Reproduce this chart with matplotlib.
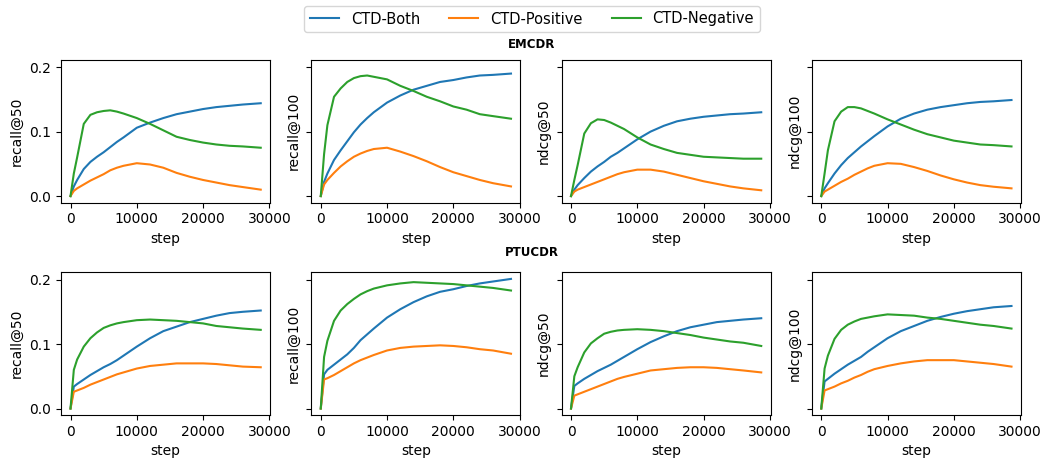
import matplotlib
matplotlib.use("Agg")
import matplotlib.pyplot as plt

steps = [0, 500, 1000, 2000, 3000, 4000, 5000, 6000, 7000, 8000,
         10000, 12000, 14000, 16000, 18000, 20000, 22000, 24000, 26000, 28700]

models = ["EMCDR", "PTUCDR"]
metrics = ["recall@50", "recall@100", "ndcg@50", "ndcg@100"]
variants = ["CTD-Both", "CTD-Positive", "CTD-Negative"]

# EMCDR
emcdr_recall50_both = [0, 0.015, 0.025, 0.042, 0.053, 0.061, 0.068, 0.076, 0.084, 0.091,
                       0.106, 0.114, 0.121, 0.127, 0.131, 0.135, 0.138, 0.140, 0.142, 0.144]
emcdr_recall50_pos = [0, 0.008, 0.012, 0.018, 0.024, 0.029, 0.034, 0.040, 0.044, 0.047,
                      0.051, 0.049, 0.044, 0.036, 0.030, 0.025, 0.021, 0.017, 0.014, 0.010]
emcdr_recall50_neg = [0, 0.035, 0.060, 0.112, 0.126, 0.130, 0.132, 0.133, 0.131, 0.128,
                      0.121, 0.112, 0.102, 0.092, 0.087, 0.083, 0.080, 0.078, 0.077, 0.075]

emcdr_recall100_both = [0, 0.022, 0.035, 0.056, 0.071, 0.085, 0.099, 0.111, 0.121, 0.130,
                        0.145, 0.156, 0.165, 0.171, 0.177, 0.180, 0.184, 0.187, 0.188, 0.190]
emcdr_recall100_pos = [0, 0.018, 0.025, 0.036, 0.046, 0.054, 0.061, 0.066, 0.070, 0.073,
                       0.075, 0.069, 0.062, 0.054, 0.045, 0.037, 0.031, 0.025, 0.020, 0.015]
emcdr_recall100_neg = [0, 0.065, 0.110, 0.154, 0.167, 0.177, 0.183, 0.186, 0.187, 0.185,
                       0.181, 0.171, 0.163, 0.154, 0.147, 0.139, 0.134, 0.127, 0.124, 0.120]

emcdr_ndcg50_both = [0, 0.010, 0.017, 0.028, 0.038, 0.046, 0.053, 0.061, 0.067, 0.074,
                     0.088, 0.100, 0.109, 0.116, 0.120, 0.123, 0.125, 0.127, 0.128, 0.130]
emcdr_ndcg50_pos = [0, 0.007, 0.010, 0.014, 0.018, 0.022, 0.026, 0.030, 0.034, 0.037,
                    0.041, 0.041, 0.038, 0.033, 0.028, 0.023, 0.019, 0.015, 0.012, 0.009]
emcdr_ndcg50_neg = [0, 0.025, 0.048, 0.097, 0.113, 0.119, 0.118, 0.114, 0.109, 0.104,
                    0.091, 0.080, 0.073, 0.067, 0.064, 0.061, 0.060, 0.059, 0.058, 0.058]

emcdr_ndcg100_both = [0, 0.012, 0.020, 0.035, 0.048, 0.059, 0.068, 0.077, 0.085, 0.093,
                      0.108, 0.120, 0.128, 0.134, 0.138, 0.141, 0.144, 0.146, 0.147, 0.149]
emcdr_ndcg100_pos = [0, 0.007, 0.010, 0.016, 0.022, 0.027, 0.033, 0.038, 0.043, 0.047,
                     0.051, 0.050, 0.045, 0.039, 0.032, 0.026, 0.021, 0.017, 0.0145, 0.012]
emcdr_ndcg100_neg = [0, 0.035, 0.071, 0.116, 0.131, 0.138, 0.138, 0.136, 0.132, 0.128,
                     0.119, 0.111, 0.103, 0.096, 0.091, 0.086, 0.083, 0.080, 0.079, 0.077]

# PTUCDR
ptucdr_recall50_both = [0, 0.034, 0.038, 0.045, 0.052, 0.058, 0.064, 0.069, 0.075, 0.082,
                        0.096, 0.109, 0.120, 0.127, 0.134, 0.139, 0.144, 0.148, 0.150, 0.152]
ptucdr_recall50_pos = [0, 0.026, 0.028, 0.032, 0.037, 0.041, 0.045, 0.049, 0.053, 0.056,
                       0.062, 0.066, 0.068, 0.070, 0.070, 0.070, 0.069, 0.067, 0.065, 0.064]
ptucdr_recall50_neg = [0, 0.060, 0.076, 0.096, 0.109, 0.118, 0.125, 0.129, 0.132, 0.134,
                       0.137, 0.138, 0.137, 0.136, 0.134, 0.132, 0.128, 0.126, 0.124, 0.122]

ptucdr_recall100_both = [0, 0.053, 0.060, 0.068, 0.076, 0.084, 0.094, 0.106, 0.115, 0.124,
                         0.141, 0.154, 0.165, 0.174, 0.181, 0.185, 0.190, 0.194, 0.197, 0.201]
ptucdr_recall100_pos = [0, 0.045, 0.047, 0.052, 0.058, 0.064, 0.070, 0.075, 0.079, 0.083,
                        0.090, 0.094, 0.096, 0.097, 0.098, 0.097, 0.095, 0.092, 0.090, 0.085]
ptucdr_recall100_neg = [0, 0.080, 0.105, 0.136, 0.152, 0.162, 0.170, 0.177, 0.182, 0.186,
                        0.191, 0.194, 0.196, 0.195, 0.194, 0.193, 0.191, 0.189, 0.187, 0.183]

ptucdr_ndcg50_both = [0, 0.035, 0.039, 0.046, 0.052, 0.058, 0.063, 0.068, 0.074, 0.080,
                      0.092, 0.103, 0.112, 0.120, 0.126, 0.130, 0.134, 0.136, 0.138, 0.140]
ptucdr_ndcg50_pos = [0, 0.020, 0.022, 0.026, 0.030, 0.034, 0.038, 0.042, 0.046, 0.049,
                     0.054, 0.059, 0.061, 0.063, 0.064, 0.064, 0.063, 0.061, 0.059, 0.056]
ptucdr_ndcg50_neg = [0, 0.050, 0.064, 0.087, 0.101, 0.109, 0.116, 0.119, 0.121, 0.122,
                     0.123, 0.122, 0.120, 0.117, 0.114, 0.110, 0.107, 0.104, 0.102, 0.097]

ptucdr_ndcg100_both = [0, 0.042, 0.046, 0.054, 0.061, 0.068, 0.074, 0.080, 0.088, 0.095,
                       0.109, 0.120, 0.128, 0.136, 0.142, 0.147, 0.151, 0.154, 0.157, 0.159]
ptucdr_ndcg100_pos = [0, 0.028, 0.030, 0.034, 0.039, 0.043, 0.048, 0.052, 0.057, 0.061,
                      0.066, 0.070, 0.073, 0.075, 0.075, 0.075, 0.073, 0.071, 0.069, 0.065]
ptucdr_ndcg100_neg = [0, 0.062, 0.082, 0.108, 0.122, 0.130, 0.135, 0.139, 0.141, 0.143,
                      0.146, 0.145, 0.144, 0.141, 0.139, 0.136, 0.133, 0.130, 0.128, 0.124]

curves = {
    "EMCDR": [
        (emcdr_recall50_both, emcdr_recall50_pos, emcdr_recall50_neg),
        (emcdr_recall100_both, emcdr_recall100_pos, emcdr_recall100_neg),
        (emcdr_ndcg50_both, emcdr_ndcg50_pos, emcdr_ndcg50_neg),
        (emcdr_ndcg100_both, emcdr_ndcg100_pos, emcdr_ndcg100_neg),
    ],
    "PTUCDR": [
        (ptucdr_recall50_both, ptucdr_recall50_pos, ptucdr_recall50_neg),
        (ptucdr_recall100_both, ptucdr_recall100_pos, ptucdr_recall100_neg),
        (ptucdr_ndcg50_both, ptucdr_ndcg50_pos, ptucdr_ndcg50_neg),
        (ptucdr_ndcg100_both, ptucdr_ndcg100_pos, ptucdr_ndcg100_neg),
    ],
}

fig, axes = plt.subplots(2, 4, figsize=(10.45, 4.58), dpi=100, sharey=True)
fig.subplots_adjust(left=61/1045, right=1021/1045, top=1-60/458, bottom=1-415/458,
                    wspace=0.196, hspace=0.49)

for r, model in enumerate(models):
    for c, metric in enumerate(metrics):
        ax = axes[r, c]
        for vals, name in zip(curves[model][c], variants):
            ax.plot(steps, vals, label=name, lw=1.5)
        ax.set_xlabel("step")
        ax.set_ylabel(metric)
        ax.set_xticks([0, 10000, 20000, 30000])

axes[0, 0].set_yticks([0.0, 0.1, 0.2])

fig.text(532/1045, 1-45/458, "EMCDR", ha="center", va="center", fontsize=8.5, fontweight="bold")
fig.text(532/1045, 1-253/458, "PTUCDR", ha="center", va="center", fontsize=8.5, fontweight="bold")

handles, labels = axes[0, 0].get_legend_handles_labels()
fig.legend(handles, labels, loc="center", ncol=3, bbox_to_anchor=(532/1045, 1-19/458),
           frameon=True, fontsize=10.5, columnspacing=2.0)

fig.savefig("out.png", dpi=100)
